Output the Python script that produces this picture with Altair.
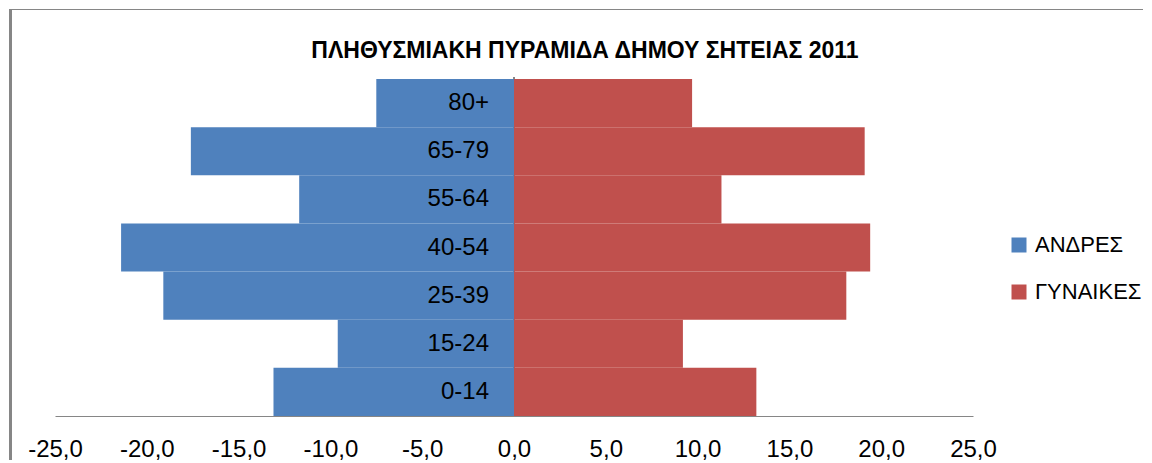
import altair as alt
import pandas as pd

title_text = "ΠΛΗΘΥΣΜΙΑΚΗ ΠΥΡΑΜΙΔΑ ΔΗΜΟΥ ΣΗΤΕΙΑΣ 2011"
ages = ["80+", "65-79", "55-64", "40-54", "25-39", "15-24", "0-14"]
men = [7.5, 17.6, 11.7, 21.4, 19.1, 9.6, 13.1]
women = [9.7, 19.1, 11.3, 19.4, 18.1, 9.2, 13.2]
series = ["ΑΝΔΡΕΣ", "ΓΥΝΑΙΚΕΣ"]
colors = ["#4F81BD", "#C0504D"]
ticks = [-25, -20, -15, -10, -5, 0, 5, 10, 15, 20, 25]

rows = []
for a, m, w in zip(ages, men, women):
    rows.append({"age": a, "sex": series[0], "value": -m})
    rows.append({"age": a, "sex": series[1], "value": w})
df = pd.DataFrame(rows)
lab = pd.DataFrame({"age": ages, "zero": [0] * len(ages)})
ttl = pd.DataFrame({"t": [title_text]})

FONT = "Liberation Sans"
W, H = 918, 337

yenc = alt.Y("age:N", sort=ages, axis=None,
             scale=alt.Scale(paddingInner=0, paddingOuter=0))

bars = alt.Chart(df).mark_bar(size=H / 7).encode(
    x=alt.X("value:Q",
            scale=alt.Scale(domain=[-25, 25], nice=False, zero=False),
            axis=alt.Axis(values=ticks, title=None, grid=False, ticks=False,
                          domainColor="#868686", domainWidth=1,
                          labelFont=FONT, labelFontSize=24, labelColor="#000000",
                          labelPadding=21, labelFlush=False,
                          labelExpr="(datum.value < 0 ? '-' : '') + replace(format(abs(datum.value), '.1f'), '.', ',')")),
    y=yenc,
    color=alt.Color("sex:N",
                    scale=alt.Scale(domain=series, range=colors),
                    legend=alt.Legend(title=None, orient="none", legendX=953, legendY=155,
                                      symbolType="square", symbolSize=225,
                                      symbolStrokeWidth=0, labelFont=FONT,
                                      labelFontSize=22, labelColor="#000000",
                                      labelOffset=5, rowPadding=25)),
)

zero_line = alt.Chart(lab).mark_rule(color="#868686", strokeWidth=1).encode(
    x=alt.X("zero:Q"), y=alt.value(-2), y2=alt.value(H)
)

labels = alt.Chart(lab).mark_text(align="right", baseline="middle", dx=-25,
                                  font=FONT, fontSize=24, color="#000000").encode(
    x=alt.X("zero:Q"), y=yenc, text="age:N"
)

title = alt.Chart(ttl).mark_text(align="center", baseline="alphabetic",
                                 font=FONT, fontSize=23,
                                 fontWeight="bold", color="#000000").encode(
    x=alt.value(W / 2 + 71), y=alt.value(-21), text="t:N"
)

border_left = alt.Chart(lab).mark_rule(color="#868686", strokeWidth=3).encode(
    x=alt.value(-44.5), y=alt.value(-69.5), y2=alt.value(H + 60)
)
border_top = alt.Chart(lab).mark_rule(color="#868686", strokeWidth=1).encode(
    x=alt.value(-46), x2=alt.value(1200), y=alt.value(-69.5)
)

chart = alt.layer(border_left, border_top, zero_line, bars, labels, title).properties(
    width=W, height=H,
    autosize=alt.AutoSizeParams(type="none"),
    padding={"left": 47, "top": 71, "right": 170, "bottom": 44},
).configure_view(stroke=None)

chart.save("out.html", embed_options={"renderer": "svg", "actions": False})
